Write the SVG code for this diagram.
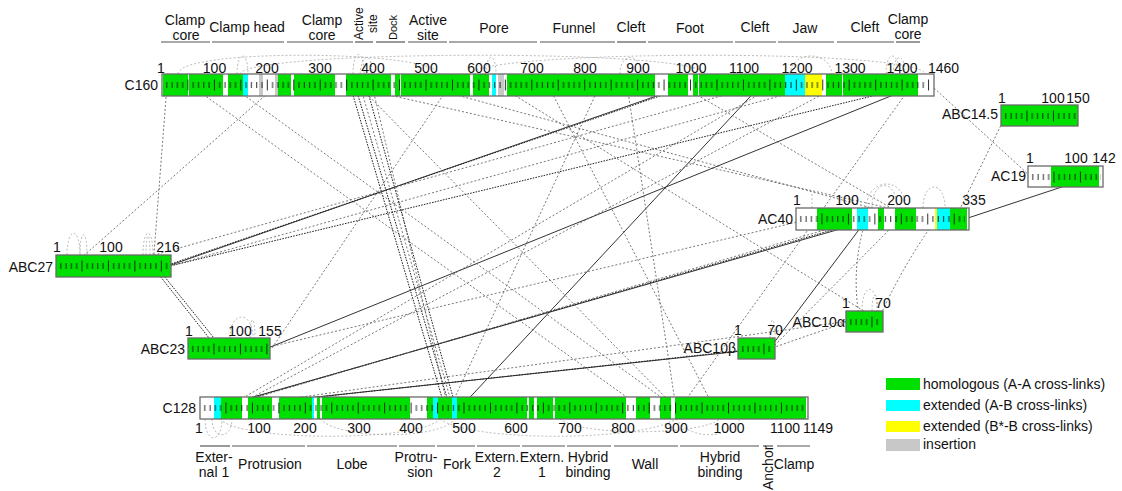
<svg xmlns="http://www.w3.org/2000/svg" width="1122" height="491" viewBox="0 0 1122 491">
  <defs>
    <!-- residue ruler: short tick every 10 residues, long tick every 50 -->
    <pattern id="ticks" patternUnits="userSpaceOnUse" x="0" y="0" width="26.45" height="22">
      <g stroke="#111" stroke-width="0.9">
        <line x1="4.79" y1="8" x2="4.79" y2="14"/>
        <line x1="10.08" y1="8" x2="10.08" y2="14"/>
        <line x1="15.37" y1="8" x2="15.37" y2="14"/>
        <line x1="20.66" y1="8" x2="20.66" y2="14"/>
        <line x1="25.95" y1="5.5" x2="25.95" y2="16.5"/>
      </g>
    </pattern>
    <style>
      text { font-family: "Liberation Sans", Arial, sans-serif; font-size: 14px; fill: #111; }
      .num { text-anchor: middle; }
      .lbl { text-anchor: end; }
      .dom { text-anchor: middle; }
      .rot { font-size: 12px; }
      .leg { font-size: 14px; }
      .bg { fill: #fff; }
      .frame { fill: none; stroke: #6a6a6a; stroke-width: 1.3; }
      .g { fill: #00e000; }
      .c { fill: #00ffff; }
      .y { fill: #ffff00; }
      .i { fill: #c8c8c8; }
      .w { fill: #fff; }
      .ul { stroke: #555; stroke-width: 1.2; }
      .l { fill: none; stroke: #555; stroke-width: 0.8; stroke-dasharray: 2 2; }
      .k { fill: none; stroke: #222; stroke-width: 1; stroke-dasharray: 1.6 1.2; }
      .s { fill: none; stroke: #333; stroke-width: 1; }
      .loop { fill: none; stroke: #aaa; stroke-width: 0.8; stroke-dasharray: 2 2; }
    </style>
  </defs>

  <rect width="1122" height="491" fill="#fff"/>

  <!-- domain annotation of C160 -->
  <g id="domains-C160">
    <g class="ul">
      <line x1="161" y1="42" x2="210" y2="42"/>
      <line x1="212" y1="42" x2="284" y2="42"/>
      <line x1="287" y1="42" x2="353" y2="42"/>
      <line x1="355" y1="42" x2="373" y2="42"/>
      <line x1="376" y1="42" x2="405" y2="42"/>
      <line x1="408" y1="42" x2="447" y2="42"/>
      <line x1="449" y1="42" x2="537" y2="42"/>
      <line x1="540" y1="42" x2="615" y2="42"/>
      <line x1="617" y1="42" x2="646" y2="42"/>
      <line x1="648" y1="42" x2="733" y2="42"/>
      <line x1="735" y1="42" x2="776" y2="42"/>
      <line x1="778" y1="42" x2="834" y2="42"/>
      <line x1="837" y1="42" x2="894" y2="42"/>
      <line x1="896" y1="42" x2="920" y2="42"/>
    </g>
    <text class="dom" x="185" y="25">Clamp</text>
    <text class="dom" x="186" y="40">core</text>
    <text class="dom" x="247" y="32">Clamp head</text>
    <text class="dom" x="322" y="25">Clamp</text>
    <text class="dom" x="322" y="40">core</text>
    <text class="rot" transform="translate(363,40) rotate(-90)">Active</text>
    <text class="rot" transform="translate(377,33) rotate(-90)">site</text>
    <text class="rot" transform="translate(397,40) rotate(-90)" style="font-size:11px">Dock</text>
    <text class="dom" x="428" y="25">Active</text>
    <text class="dom" x="428" y="40">site</text>
    <text class="dom" x="494" y="33">Pore</text>
    <text class="dom" x="574" y="33">Funnel</text>
    <text class="dom" x="631" y="32">Cleft</text>
    <text class="dom" x="690" y="33">Foot</text>
    <text class="dom" x="755" y="32">Cleft</text>
    <text class="dom" x="805" y="33">Jaw</text>
    <text class="dom" x="865" y="32">Cleft</text>
    <text class="dom" x="908" y="24">Clamp</text>
    <text class="dom" x="908" y="39">core</text>
  </g>

  <!-- domain annotation of C128 -->
  <g id="domains-C128">
    <g class="ul">
      <line x1="200" y1="446" x2="230" y2="446"/>
      <line x1="232" y1="446" x2="305" y2="446"/>
      <line x1="307" y1="446" x2="397" y2="446"/>
      <line x1="399" y1="446" x2="435" y2="446"/>
      <line x1="437" y1="446" x2="475" y2="446"/>
      <line x1="477" y1="446" x2="520" y2="446"/>
      <line x1="522" y1="446" x2="565" y2="446"/>
      <line x1="567" y1="446" x2="611" y2="446"/>
      <line x1="614" y1="446" x2="678" y2="446"/>
      <line x1="680" y1="446" x2="759" y2="446"/>
      <line x1="763" y1="446" x2="773" y2="446"/>
      <line x1="777" y1="446" x2="810" y2="446"/>
    </g>
    <text class="dom" x="214" y="462">Exter-</text>
    <text class="dom" x="214" y="477">nal 1</text>
    <text class="dom" x="270" y="469">Protrusion</text>
    <text class="dom" x="352" y="469">Lobe</text>
    <text class="dom" x="416" y="462">Protru-</text>
    <text class="dom" x="420" y="477">sion</text>
    <text class="dom" x="457" y="469">Fork</text>
    <text class="dom" x="497" y="462">Extern.</text>
    <text class="dom" x="497" y="477">2</text>
    <text class="dom" x="542" y="462">Extern.</text>
    <text class="dom" x="542" y="477">1</text>
    <text class="dom" x="588" y="462">Hybrid</text>
    <text class="dom" x="588" y="477">binding</text>
    <text class="dom" x="645" y="469">Wall</text>
    <text class="dom" x="720" y="462">Hybrid</text>
    <text class="dom" x="720" y="477">binding</text>
    <text transform="translate(773,490) rotate(-90)">Anchor</text>
    <text class="dom" x="794" y="469">Clamp</text>
  </g>

  <!-- intra-subunit cross-link loops -->
  <g id="loops">
    <path class="loop" d="M178 74 C178 48 430 50 440 74"/>
    <path class="loop" d="M240 74 C245 50 700 48 705 74"/>
    <path class="loop" d="M470 74 C480 50 920 48 925 74"/>
    <path class="loop" d="M237 74 C237 50 248 50 248 74"/>
    <path class="loop" d="M353 74 C353 48 364 48 364 74"/>
    <path class="loop" d="M360 74 C362 52 372 52 372 74"/>
    <path class="loop" d="M486 74 C486 52 496 52 496 74"/>
    <path class="loop" d="M620 74 C620 52 640 52 642 74"/>
    <path class="loop" d="M790 74 C792 50 830 50 832 74"/>
    <path class="loop" d="M886 74 C886 50 898 50 900 74"/>
    <path class="loop" d="M893 74 C894 52 905 52 905 74"/>
    <path class="loop" d="M205 419 C205 444 222 444 222 419"/>
    <path class="loop" d="M212 419 C212 440 232 440 232 419"/>
    <path class="loop" d="M220 419 C240 442 420 442 440 419"/>
    <path class="loop" d="M320 419 C340 440 440 440 455 419"/>
    <path class="loop" d="M440 419 C470 442 640 442 676 419"/>
    <path class="loop" d="M560 419 C580 436 700 436 720 419"/>
    <path class="loop" d="M676 419 C690 440 730 440 740 419"/>
    <path class="loop" d="M67 255 C67 226 80 226 80 255"/>
    <path class="loop" d="M80 255 C80 228 87 228 87 255"/>
    <path class="loop" d="M143 255 C143 226 153 226 153 255"/>
    <path class="loop" d="M146 255 C146 230 150 230 150 255"/>
    <path class="loop" d="M230 338 C230 310 253 310 253 338"/>
    <path class="loop" d="M250 338 C250 314 255 314 255 338"/>
    <path class="loop" d="M872 208 C872 178 897 178 897 208"/>
    <path class="loop" d="M866 208 C868 176 905 176 906 208"/>
    <path class="loop" d="M923 208 C923 180 945 180 945 208"/>
    <path class="loop" d="M812 208 L812 192"/>
    <path class="loop" d="M862 311 C862 282 877 282 877 311"/>
    <path class="loop" d="M872 311 C872 290 878 290 878 311"/>
    <path class="loop" d="M770 338 C770 314 775 314 775 338"/>
  </g>

  <!-- inter-subunit cross-links -->
  <g id="connectors">
    <line class="l" x1="167" y1="85" x2="153" y2="266"/>
    <line class="l" x1="277" y1="85" x2="72" y2="266"/>
    <line class="l" x1="190" y1="85" x2="642" y2="408"/>
    <line class="k" x1="918" y1="85" x2="170" y2="266"/>
    <line class="s" x1="688" y1="85" x2="168" y2="266"/>
    <line class="k" x1="692" y1="85" x2="165" y2="266"/>
    <line class="s" x1="761" y1="85" x2="460" y2="408"/>
    <line class="s" x1="215" y1="408" x2="875" y2="219"/>
    <line class="k" x1="217" y1="408" x2="870" y2="219"/>
    <line class="l" x1="220" y1="408" x2="862" y2="219"/>
    <line class="s" x1="215" y1="408" x2="770" y2="348"/>
    <line class="k" x1="218" y1="408" x2="765" y2="348"/>
    <line class="l" x1="222" y1="408" x2="850" y2="321"/>
    <line class="k" x1="152" y1="266" x2="217" y2="348"/>
    <line class="k" x1="156" y1="266" x2="222" y2="348"/>
    <line class="k" x1="350" y1="85" x2="445" y2="408"/>
    <line class="k" x1="355" y1="85" x2="450" y2="408"/>
    <line class="l" x1="360" y1="85" x2="453" y2="408"/>
    <line class="k" x1="366" y1="85" x2="456" y2="408"/>
    <line class="l" x1="372" y1="85" x2="448" y2="408"/>
    <line class="l" x1="358" y1="85" x2="676" y2="408"/>
    <line class="l" x1="345" y1="85" x2="937" y2="219"/>
    <line class="l" x1="934" y1="88" x2="1030" y2="176"/>
    <line class="l" x1="1006" y1="115" x2="955" y2="219"/>
    <line class="s" x1="1095" y1="176" x2="965" y2="219"/>
    <path class="l" d="M866 219 Q850 270 860 321"/>
    <path class="l" d="M936 219 Q900 270 878 321"/>
    <line class="s" x1="867" y1="219" x2="770" y2="348"/>
    <line class="l" x1="900" y1="219" x2="772" y2="348"/>
    <line class="l" x1="850" y1="321" x2="772" y2="348"/>
    <line class="s" x1="918" y1="85" x2="268" y2="348"/>
    <line class="l" x1="265" y1="348" x2="810" y2="219"/>
    <line class="l" x1="272" y1="348" x2="450" y2="85"/>
    <line class="l" x1="115" y1="266" x2="760" y2="85"/>
    <line class="l" x1="548" y1="85" x2="714" y2="408"/>
    <line class="l" x1="627" y1="85" x2="676" y2="408"/>
    <line class="l" x1="170" y1="266" x2="819" y2="85"/>
    <line class="l" x1="230" y1="85" x2="676" y2="408"/>
    <line class="l" x1="420" y1="85" x2="912" y2="219"/>
    <line class="l" x1="775" y1="85" x2="226" y2="408"/>
    <line class="l" x1="840" y1="85" x2="232" y2="408"/>
    <line class="l" x1="680" y1="85" x2="910" y2="219"/>
    <line class="l" x1="912" y1="85" x2="680" y2="408"/>
    <line class="l" x1="600" y1="85" x2="450" y2="408"/>
    <line class="l" x1="498" y1="85" x2="880" y2="321"/>
  </g>

  <!-- subunit C160 -->
  <g id="n-C160" transform="translate(162,74)">
    <rect class="bg" width="772" height="22"/>
    <rect class="g" x="1" width="60" height="22"/>
    <rect class="w" x="26" width="1" height="22"/>
    <rect class="g" x="66" width="15" height="22"/>
    <rect class="c" x="81" width="5" height="22"/>
    <rect class="i" x="97" width="4" height="22"/>
    <rect class="i" x="113" width="3" height="22"/>
    <rect class="g" x="116" width="13" height="22"/>
    <rect class="g" x="132" width="41" height="22"/>
    <rect class="g" x="184" width="45" height="22"/>
    <rect class="g" x="233" width="75" height="22"/>
    <rect class="w" x="238" width="1" height="22"/>
    <rect class="g" x="311" width="16" height="22"/>
    <rect class="c" x="330" width="4" height="22"/>
    <rect class="i" x="336" width="6" height="22"/>
    <rect class="g" x="345" width="148" height="22"/>
    <rect class="g" x="506" width="20" height="22"/>
    <rect class="g" x="531" width="92" height="22"/>
    <rect class="w" x="536" width="1" height="22"/>
    <rect class="c" x="623" width="20" height="22"/>
    <rect class="y" x="643" width="17" height="22"/>
    <rect class="g" x="664" width="92" height="22"/>
    <rect class="w" x="680" width="1" height="22"/>
    <rect x="2" width="766" height="22" fill="url(#ticks)"/>
    <rect class="frame" width="772" height="22"/>
    <text class="lbl" x="-4" y="16">C160</text>
    <text class="num" x="-1" y="-1">1</text>
    <text class="num" x="52.5" y="-1">100</text>
    <text class="num" x="105" y="-1">200</text>
    <text class="num" x="158" y="-1">300</text>
    <text class="num" x="211" y="-1">400</text>
    <text class="num" x="264" y="-1">500</text>
    <text class="num" x="317" y="-1">600</text>
    <text class="num" x="370" y="-1">700</text>
    <text class="num" x="423" y="-1">800</text>
    <text class="num" x="476" y="-1">900</text>
    <text class="num" x="529" y="-1">1000</text>
    <text class="num" x="582" y="-1">1100</text>
    <text class="num" x="635" y="-1">1200</text>
    <text class="num" x="688" y="-1">1300</text>
    <text class="num" x="740" y="-1">1400</text>
    <text x="766" y="-1">1460</text>
  </g>

  <!-- subunit C128 -->
  <g id="n-C128" transform="translate(200,397)">
    <rect class="bg" width="608" height="22"/>
    <rect class="c" x="14" width="7" height="22"/>
    <rect class="g" x="21" width="21" height="22"/>
    <rect class="g" x="48" width="24" height="22"/>
    <rect class="g" x="79" width="33" height="22"/>
    <rect class="c" x="112" width="2" height="22"/>
    <rect class="g" x="117" width="3" height="22"/>
    <rect class="g" x="122" width="88" height="22"/>
    <rect class="g" x="227" width="6" height="22"/>
    <rect class="c" x="233" width="5" height="22"/>
    <rect class="g" x="238" width="14" height="22"/>
    <rect class="c" x="252" width="5" height="22"/>
    <rect class="g" x="257" width="70" height="22"/>
    <rect class="g" x="329" width="5" height="22"/>
    <rect class="g" x="337" width="16" height="22"/>
    <rect class="g" x="355" width="71" height="22"/>
    <rect class="w" x="354" width="1" height="22"/>
    <rect class="g" x="436" width="14" height="22"/>
    <rect class="g" x="460" width="11" height="22"/>
    <rect class="g" x="475" width="131" height="22"/>
    <rect x="2" width="602" height="22" fill="url(#ticks)"/>
    <rect class="frame" width="608" height="22"/>
    <text class="lbl" x="-4" y="16">C128</text>
    <text class="num" x="-1" y="36">1</text>
    <text class="num" x="59" y="36">100</text>
    <text class="num" x="105" y="36">200</text>
    <text class="num" x="159" y="36">300</text>
    <text class="num" x="211" y="36">400</text>
    <text class="num" x="264" y="36">500</text>
    <text class="num" x="316" y="36">600</text>
    <text class="num" x="370" y="36">700</text>
    <text class="num" x="423" y="36">800</text>
    <text class="num" x="476" y="36">900</text>
    <text class="num" x="529" y="36">1000</text>
    <text class="num" x="585" y="36">1100</text>
    <text x="603" y="36">1149</text>
  </g>

  <!-- subunit ABC27 -->
  <g id="n-ABC27" transform="translate(56,255)">
    <rect class="g" width="115" height="22"/>
    <rect x="2" width="111" height="22" fill="url(#ticks)"/>
    <rect class="frame" width="115" height="22"/>
    <text class="lbl" x="-3" y="17">ABC27</text>
    <text class="num" x="1" y="-3">1</text>
    <text class="num" x="55" y="-3">100</text>
    <text class="num" x="112" y="-3">216</text>
  </g>

  <!-- subunit ABC23 -->
  <g id="n-ABC23" transform="translate(188,338)">
    <rect class="g" width="82" height="21"/>
    <rect x="2" width="78" height="21" fill="url(#ticks)"/>
    <rect class="frame" width="82" height="21"/>
    <text class="lbl" x="-3" y="16">ABC23</text>
    <text class="num" x="1" y="-2">1</text>
    <text class="num" x="52" y="-2">100</text>
    <text class="num" x="82" y="-2">155</text>
  </g>

  <!-- subunit ABC14.5 -->
  <g id="n-ABC14.5" transform="translate(1001,105)">
    <rect class="g" width="77" height="21"/>
    <rect x="2" width="73" height="21" fill="url(#ticks)"/>
    <rect class="frame" width="77" height="21"/>
    <text class="lbl" x="-3" y="14">ABC14.5</text>
    <text class="num" x="1" y="-2">1</text>
    <text class="num" x="52" y="-2">100</text>
    <text class="num" x="77" y="-2">150</text>
  </g>

  <!-- subunit AC19 -->
  <g id="n-AC19" transform="translate(1028,166)">
    <rect class="bg" width="75" height="21"/>
    <rect class="g" x="23" width="48" height="21"/>
    <rect x="2" width="71" height="21" fill="url(#ticks)"/>
    <rect class="frame" width="75" height="21"/>
    <text class="lbl" x="-2" y="15">AC19</text>
    <text class="num" x="2" y="-3">1</text>
    <text class="num" x="48" y="-3">100</text>
    <text class="num" x="76" y="-3">142</text>
  </g>

  <!-- subunit AC40 -->
  <g id="n-AC40" transform="translate(796,208)">
    <rect class="bg" width="173" height="22"/>
    <rect class="g" x="21" width="35" height="22"/>
    <rect class="w" x="56" width="1" height="22"/>
    <rect class="c" x="61" width="11" height="22"/>
    <rect class="g" x="82" width="6" height="22"/>
    <rect class="g" x="99" width="21" height="22"/>
    <rect class="y" x="139" width="2" height="22"/>
    <rect class="c" x="141" width="13" height="22"/>
    <rect class="g" x="154" width="17" height="22"/>
    <rect x="2" width="167" height="22" fill="url(#ticks)"/>
    <rect class="frame" width="173" height="22"/>
    <text class="lbl" x="-3" y="16">AC40</text>
    <text class="num" x="1" y="-3">1</text>
    <text class="num" x="51" y="-3">100</text>
    <text class="num" x="103" y="-3">200</text>
    <text class="num" x="178" y="-3">335</text>
  </g>

  <!-- subunit ABC10alpha -->
  <g id="n-ABC10a" transform="translate(846,311)">
    <rect class="g" width="37" height="21"/>
    <rect x="2" width="33" height="21" fill="url(#ticks)"/>
    <rect class="frame" width="37" height="21"/>
    <text class="lbl" x="-1" y="16">ABC10α</text>
    <text class="num" x="0" y="-3">1</text>
    <text class="num" x="37" y="-3">70</text>
  </g>

  <!-- subunit ABC10beta -->
  <g id="n-ABC10b" transform="translate(738,338)">
    <rect class="g" width="37" height="21"/>
    <rect x="2" width="33" height="21" fill="url(#ticks)"/>
    <rect class="frame" width="37" height="21"/>
    <text class="lbl" x="-2" y="15">ABC10β</text>
    <text class="num" x="0" y="-3">1</text>
    <text class="num" x="37" y="-3">70</text>
  </g>

  <!-- legend -->
  <g id="legend">
    <rect class="g" x="886" y="378" width="34" height="12"/>
    <rect class="c" x="886" y="400" width="34" height="11"/>
    <rect class="y" x="886" y="421" width="34" height="11"/>
    <rect class="i" x="886" y="439" width="34" height="12"/>
    <text class="leg" x="923" y="389">homologous (A-A cross-links)</text>
    <text class="leg" x="923" y="410">extended (A-B cross-links)</text>
    <text class="leg" x="923" y="431">extended (B*-B cross-links)</text>
    <text class="leg" x="923" y="449">insertion</text>
  </g>
</svg>
